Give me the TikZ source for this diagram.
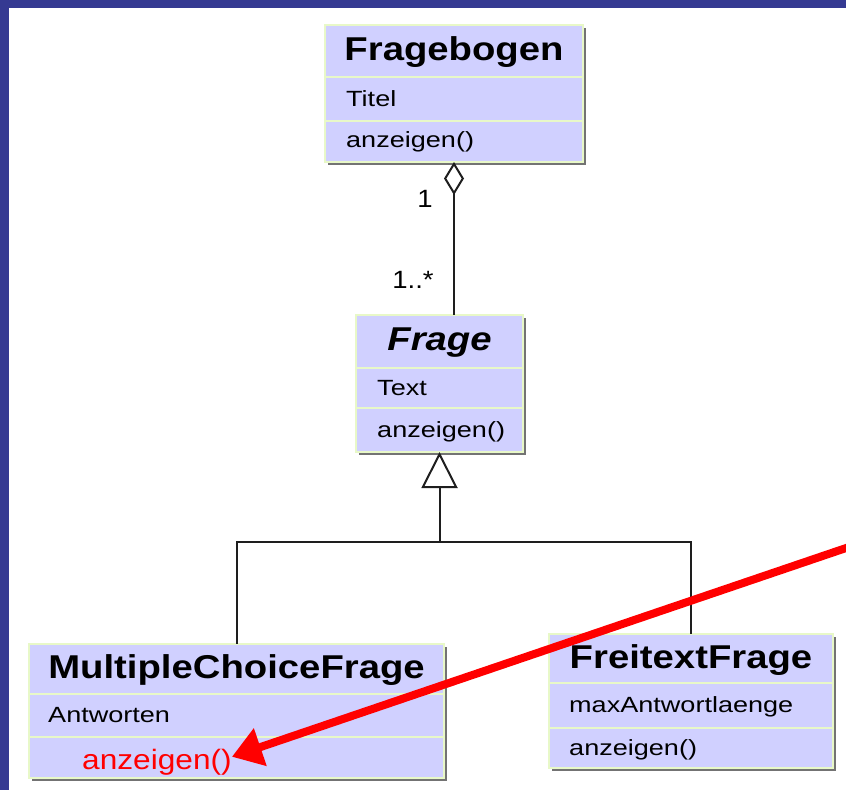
\documentclass[tikz,border=0pt]{standalone}
\usepackage{fontspec}
\usetikzlibrary{arrows.meta,shadows,calc}
\setmainfont{Liberation Sans}
\newfontfamily\ttlfont[FakeStretch=1.16]{Liberation Sans}
\newfontfamily\rowfont[FakeStretch=1.23]{Liberation Sans}
\newfontfamily\lblfont[FakeStretch=1.1]{Liberation Sans}
\newfontfamily\notefont[FakeStretch=1.13]{Liberation Sans}
\definecolor{frameblue}{RGB}{53,58,146}
\definecolor{boxfill}{RGB}{208,208,255}
\definecolor{boxedge}{RGB}{232,248,200}
\definecolor{linegray}{RGB}{30,30,30}
\definecolor{notered}{RGB}{255,0,0}
\begin{document}
\begin{tikzpicture}[x=1pt,y=-1pt,
  classbox/.style={rectangle, fill=boxfill, draw=boxedge, line width=1.2pt,
    inner sep=0pt, outer sep=0pt,
    drop shadow={shadow xshift=2.5pt, shadow yshift=-2.5pt, fill=black!55, opacity=1}},
  compsep/.style={draw=boxedge, line width=2pt},
  classname/.style={anchor=base, inner sep=0pt, font=\fontsize{33}{33}\ttlfont\bfseries},
  member/.style={anchor=base west, inner sep=0pt, font=\fontsize{22}{22}\rowfont},
  mult/.style={anchor=base, inner sep=0pt, font=\fontsize{25}{25}\lblfont},
  link/.style={draw=linegray, line width=2pt},
  aggregation/.style={link, {Diamond[open, length=33pt, width=20pt]}-},
  generalization/.style={link, {Triangle[open, length=36pt, width=36pt]}-},
  pointer/.style={draw=notered, line width=8pt, -{Triangle[length=30pt, width=38pt]}},
]
% page and frame
\useasboundingbox (0,0) rectangle (846,790);
\fill[white] (0,0) rectangle (846,790);
\fill[frameblue] (0,0) rectangle (9,790);
\fill[frameblue] (0,0) rectangle (846,8);

% class boxes
\node[classbox, minimum width=258pt, minimum height=137pt] (fb) at (454,93.5) {};
\node[classbox, minimum width=167pt, minimum height=137pt] (fr) at (439.5,383.5) {};
\node[classbox, minimum width=415pt, minimum height=134pt] (mcf) at (236.5,711) {};
\node[classbox, minimum width=284pt, minimum height=134pt] (ff) at (691,701) {};

% compartment separators
\draw[compsep] (326,77) -- (582,77);
\draw[compsep] (326,121) -- (582,121);
\draw[compsep] (357,368) -- (522,368);
\draw[compsep] (357,408) -- (522,408);
\draw[compsep] (30,694) -- (443,694);
\draw[compsep] (30,737) -- (443,737);
\draw[compsep] (550,683) -- (832,683);
\draw[compsep] (550,728) -- (832,728);

% Fragebogen
\node[classname] (fbname) at (454,60) {Fragebogen};
\node[member] (fbattr) at (346,106) {Titel};
\node[member] (fbop) at (346,147) {anzeigen()};

% Frage (abstract)
\node[classname, font=\fontsize{33}{33}\ttlfont\bfseries\itshape] (frname) at (439.5,350) {Frage};
\node[member] (frattr) at (377,395) {Text};
\node[member] (frop) at (377,437) {anzeigen()};

% MultipleChoiceFrage
\node[classname] (mcfname) at (236.5,678) {MultipleChoiceFrage};
\node[member] (mcfattr) at (48,722.5) {Antworten};
\node[member, text=notered, font=\fontsize{28}{28}\notefont] (mcfop) at (82,769) {anzeigen()};

% FreitextFrage
\node[classname] (ffname) at (691,668) {FreitextFrage};
\node[member] (ffattr) at (569,712.5) {maxAntwortlaenge};
\node[member] (ffop) at (569,755) {anzeigen()};

% aggregation Fragebogen <>-- Frage
\draw[aggregation] (fb.south) -- (fb.south |- fr.north);
\node[mult] (m1) at (425,207) {1};
\node[mult] (m2) at (413,288) {1..*};

% generalization tree
\coordinate (bus) at (439.5,542);
\draw[generalization] (fr.south) -- (bus);
\draw[link] (bus) -| (mcf.north);
\draw[link] (bus) -| (ff.north);

% pointer to the redefined operation
\coordinate (src) at (852,546);
\draw[pointer] (src) -- ($(mcfop.east)+(0,-5)$);
\end{tikzpicture}
\end{document}
